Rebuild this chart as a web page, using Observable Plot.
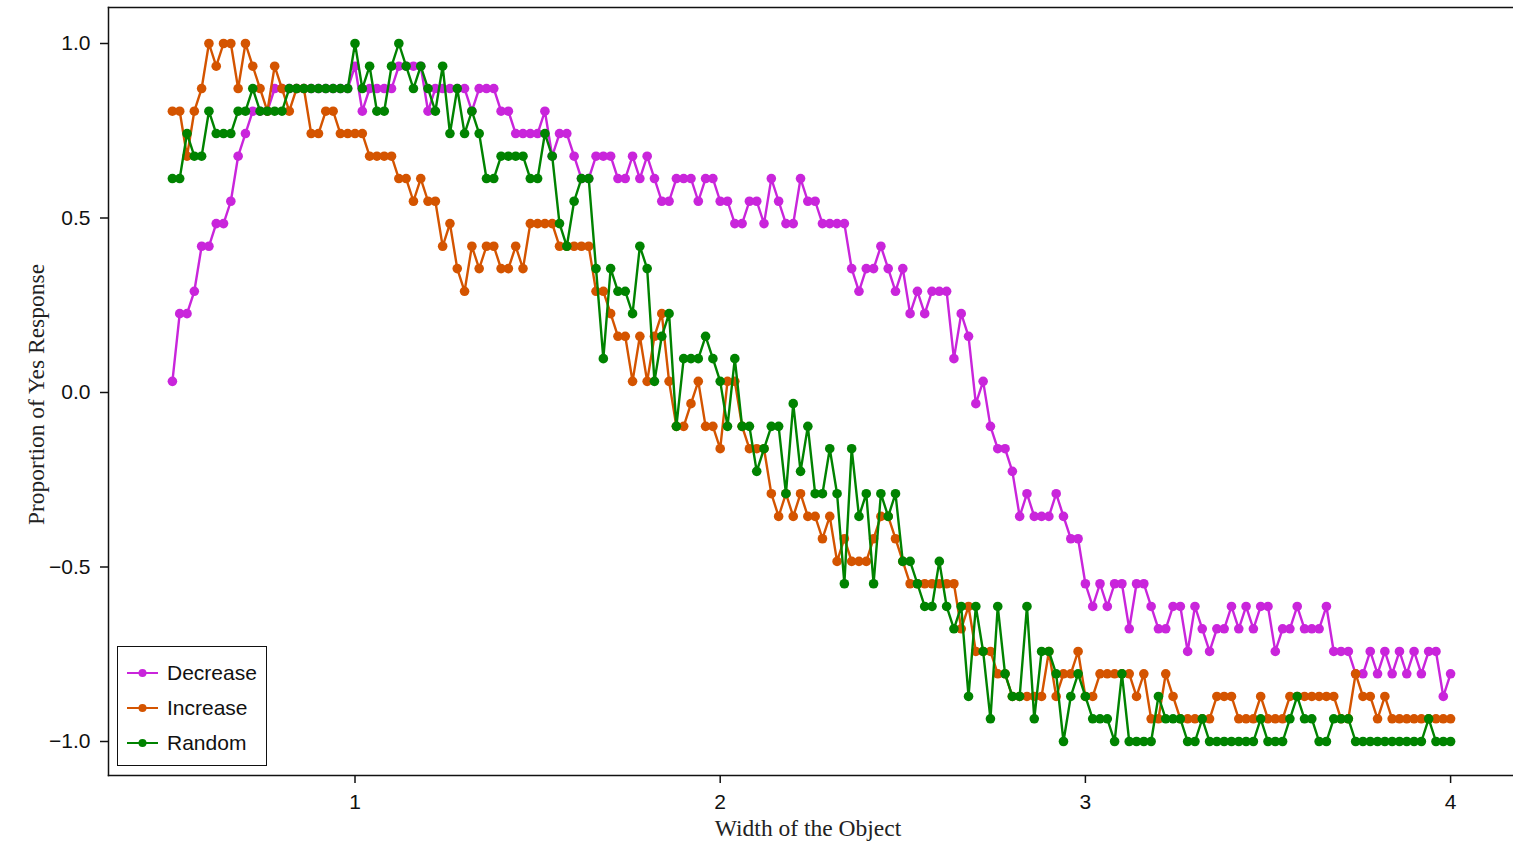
<!DOCTYPE html>
<html>
<head>
<meta charset="utf-8">
<script src="https://cdn.jsdelivr.net/npm/d3@7"></script>
<script src="https://cdn.jsdelivr.net/npm/@observablehq/plot@0.6"></script>
<style>
  html, body { margin: 0; padding: 0; background: #fff; overflow: hidden; }
  #wrap { position: relative; width: 1513px; height: 842px; }
  #legend { position: absolute; left: 117px; top: 646px; width: 148px; height: 118px;
            border: 1.5px solid #111; background: #fff; box-sizing: content-box; }
  .item { position: absolute; left: 9px; height: 24px; display: flex; align-items: center;
          font-family: "Liberation Sans", Arial, sans-serif; font-size: 21px; color: #111; }
  .item svg { margin-right: 9px; }
</style>
</head>
<body>
<div id="wrap"></div>
<script>
// ---- data ----
const xStart = 0.5;          // first object width
const xStep = 0.02;          // spacing of object widths
const seriesNames = ["Decrease", "Increase", "Random"];
const seriesColors = ["#c925db", "#d45400", "#008300"];
const xTicks = [1, 2, 3, 4];
const yTicks = [-1, -0.5, 0, 0.5, 1];
const xLabel = "Width of the Object";
const yLabel = "Proportion of Yes Response";

const decrease = [
  0.032, 0.226, 0.226, 0.290, 0.419, 0.419, 0.484, 0.484, 0.548, 0.677,
  0.742, 0.806, 0.806, 0.806, 0.871, 0.871, 0.871, 0.871, 0.871, 0.871,
  0.871, 0.871, 0.871, 0.871, 0.871, 0.935, 0.806, 0.871, 0.871, 0.871,
  0.871, 0.935, 0.935, 0.935, 0.935, 0.806, 0.871, 0.871, 0.871, 0.871,
  0.871, 0.806, 0.871, 0.871, 0.871, 0.806, 0.806, 0.742, 0.742, 0.742,
  0.742, 0.806, 0.677, 0.742, 0.742, 0.677, 0.613, 0.613, 0.677, 0.677,
  0.677, 0.613, 0.613, 0.677, 0.613, 0.677, 0.613, 0.548, 0.548, 0.613,
  0.613, 0.613, 0.548, 0.613, 0.613, 0.548, 0.548, 0.484, 0.484, 0.548,
  0.548, 0.484, 0.613, 0.548, 0.484, 0.484, 0.613, 0.548, 0.548, 0.484,
  0.484, 0.484, 0.484, 0.355, 0.290, 0.355, 0.355, 0.419, 0.355, 0.290,
  0.355, 0.226, 0.290, 0.226, 0.290, 0.290, 0.290, 0.097, 0.226, 0.161,
  -0.032, 0.032, -0.097, -0.161, -0.161, -0.226, -0.355, -0.290, -0.355, -0.355,
  -0.355, -0.290, -0.355, -0.419, -0.419, -0.548, -0.613, -0.548, -0.613, -0.548,
  -0.548, -0.677, -0.548, -0.548, -0.613, -0.677, -0.677, -0.613, -0.613, -0.742,
  -0.613, -0.677, -0.742, -0.677, -0.677, -0.613, -0.677, -0.613, -0.677, -0.613,
  -0.613, -0.742, -0.677, -0.677, -0.613, -0.677, -0.677, -0.677, -0.613, -0.742,
  -0.742, -0.742, -0.806, -0.806, -0.742, -0.806, -0.742, -0.806, -0.742, -0.806,
  -0.742, -0.806, -0.742, -0.742, -0.871, -0.806
];

const increase = [
  0.806, 0.806, 0.677, 0.806, 0.871, 1.000, 0.935, 1.000, 1.000, 0.871,
  1.000, 0.935, 0.871, 0.806, 0.935, 0.871, 0.806, 0.871, 0.871, 0.742,
  0.742, 0.806, 0.806, 0.742, 0.742, 0.742, 0.742, 0.677, 0.677, 0.677,
  0.677, 0.613, 0.613, 0.548, 0.613, 0.548, 0.548, 0.419, 0.484, 0.355,
  0.290, 0.419, 0.355, 0.419, 0.419, 0.355, 0.355, 0.419, 0.355, 0.484,
  0.484, 0.484, 0.484, 0.419, 0.419, 0.419, 0.419, 0.419, 0.290, 0.290,
  0.226, 0.161, 0.161, 0.032, 0.161, 0.032, 0.161, 0.226, 0.032, -0.097,
  -0.097, -0.032, 0.032, -0.097, -0.097, -0.161, 0.032, 0.032, -0.097, -0.161,
  -0.161, -0.161, -0.290, -0.355, -0.290, -0.355, -0.290, -0.355, -0.355, -0.419,
  -0.355, -0.484, -0.419, -0.484, -0.484, -0.484, -0.419, -0.355, -0.355, -0.419,
  -0.484, -0.548, -0.548, -0.548, -0.548, -0.548, -0.548, -0.548, -0.677, -0.613,
  -0.742, -0.742, -0.742, -0.806, -0.806, -0.871, -0.871, -0.871, -0.871, -0.871,
  -0.742, -0.871, -0.806, -0.806, -0.742, -0.871, -0.871, -0.806, -0.806, -0.806,
  -0.806, -0.806, -0.871, -0.806, -0.935, -0.935, -0.806, -0.871, -0.935, -0.935,
  -0.935, -0.935, -0.935, -0.871, -0.871, -0.871, -0.935, -0.935, -0.935, -0.871,
  -0.935, -0.935, -0.935, -0.871, -0.871, -0.871, -0.871, -0.871, -0.871, -0.871,
  -0.935, -0.935, -0.806, -0.871, -0.871, -0.935, -0.871, -0.935, -0.935, -0.935,
  -0.935, -0.935, -0.935, -0.935, -0.935, -0.935
];

const random = [
  0.613, 0.613, 0.742, 0.677, 0.677, 0.806, 0.742, 0.742, 0.742, 0.806,
  0.806, 0.871, 0.806, 0.806, 0.806, 0.806, 0.871, 0.871, 0.871, 0.871,
  0.871, 0.871, 0.871, 0.871, 0.871, 1.000, 0.871, 0.935, 0.806, 0.806,
  0.935, 1.000, 0.935, 0.871, 0.935, 0.871, 0.806, 0.935, 0.742, 0.871,
  0.742, 0.806, 0.742, 0.613, 0.613, 0.677, 0.677, 0.677, 0.677, 0.613,
  0.613, 0.742, 0.677, 0.484, 0.419, 0.548, 0.613, 0.613, 0.355, 0.097,
  0.355, 0.290, 0.290, 0.226, 0.419, 0.355, 0.032, 0.161, 0.226, -0.097,
  0.097, 0.097, 0.097, 0.161, 0.097, 0.032, -0.097, 0.097, -0.097, -0.097,
  -0.226, -0.161, -0.097, -0.097, -0.290, -0.032, -0.226, -0.097, -0.290, -0.290,
  -0.161, -0.290, -0.548, -0.161, -0.355, -0.290, -0.548, -0.290, -0.355, -0.290,
  -0.484, -0.484, -0.548, -0.613, -0.613, -0.484, -0.613, -0.677, -0.613, -0.871,
  -0.613, -0.742, -0.935, -0.613, -0.806, -0.871, -0.871, -0.613, -0.935, -0.742,
  -0.742, -0.806, -1.000, -0.871, -0.806, -0.871, -0.935, -0.935, -0.935, -1.000,
  -0.806, -1.000, -1.000, -1.000, -1.000, -0.871, -0.935, -0.935, -0.935, -1.000,
  -1.000, -0.935, -1.000, -1.000, -1.000, -1.000, -1.000, -1.000, -1.000, -0.935,
  -1.000, -1.000, -1.000, -0.935, -0.871, -0.935, -0.935, -1.000, -1.000, -0.935,
  -0.935, -0.935, -1.000, -1.000, -1.000, -1.000, -1.000, -1.000, -1.000, -1.000,
  -1.000, -1.000, -0.935, -1.000, -1.000, -1.000
];

// ---- build tables ----
const seriesValues = [decrease, increase, random];
const widths = decrease.map((_, i) => +(xStart + xStep * i).toFixed(2));
const tables = seriesValues.map((vals, s) =>
  vals.map((v, i) => ({ x: widths[i], y: v, series: seriesNames[s] }))
);

const sans = "'Liberation Sans', Arial, Helvetica, sans-serif";
const serif = "'Liberation Serif', 'Times New Roman', serif";

const seriesMarks = tables.flatMap((data, s) => [
  Plot.line(data, { x: "x", y: "y", stroke: seriesColors[s], strokeWidth: 2.4, strokeLinejoin: "round" }),
  Plot.dot(data, { x: "x", y: "y", fill: seriesColors[s], stroke: "none", r: 4.8 })
]);

const chart = Plot.plot({
  width: 1513,
  height: 842,
  marginLeft: 108,
  marginRight: 0,
  marginTop: 7,
  marginBottom: 67,
  x: { domain: [0.325, 4.175], range: [108, 1514] },
  y: { domain: [-1.1, 1.1], range: [775.9, 8.1] },
  style: { background: "#fff", color: "#111", fontFamily: sans, fontSize: "21px", overflow: "hidden" },
  marks: [
    Plot.frame({ anchor: "top", stroke: "#111", strokeWidth: 1.5 }),
    Plot.frame({ anchor: "left", stroke: "#111", strokeWidth: 1.5 }),
    Plot.frame({ anchor: "bottom", stroke: "#111", strokeWidth: 1.5 }),
    ...seriesMarks,
    Plot.axisX(xTicks, { tickSize: 8, tickPadding: 11, strokeWidth: 1.5, fontSize: 21, fontFamily: sans, label: null, tickFormat: d3.format("d") }),
    Plot.axisY(yTicks, { tickSize: 8, tickPadding: 10, strokeWidth: 1.5, fontSize: 21, fontFamily: sans, label: null, tickFormat: d3.format(".1f") }),
    Plot.text([xLabel], { frameAnchor: "bottom", textAnchor: "middle", dx: -3, dy: 60, lineAnchor: "bottom", fontFamily: serif, fontSize: 23.5, fill: "#222" }),
    Plot.text([yLabel], { frameAnchor: "left", textAnchor: "middle", rotate: -90, dx: -65, dy: 3, lineAnchor: "bottom", fontFamily: serif, fontSize: 23.5, fill: "#222" })
  ]
});

const wrap = document.getElementById("wrap");
wrap.appendChild(chart);

// ---- legend (overlay inside the plot area) ----
const legend = document.createElement("div");
legend.id = "legend";
seriesNames.forEach((name, s) => {
  const item = document.createElement("div");
  item.className = "item";
  item.style.top = (14 + s * 35) + "px";
  const svg = d3.create("svg").attr("width", 31).attr("height", 24);
  svg.append("line").attr("x1", 0).attr("x2", 31).attr("y1", 12).attr("y2", 12)
     .attr("stroke", seriesColors[s]).attr("stroke-width", 2);
  svg.append("circle").attr("cx", 15.5).attr("cy", 12).attr("r", 4).attr("fill", seriesColors[s]);
  item.appendChild(svg.node());
  const label = document.createElement("span");
  label.textContent = name;
  item.appendChild(label);
  legend.appendChild(item);
});
wrap.appendChild(legend);
</script>
</body>
</html>
